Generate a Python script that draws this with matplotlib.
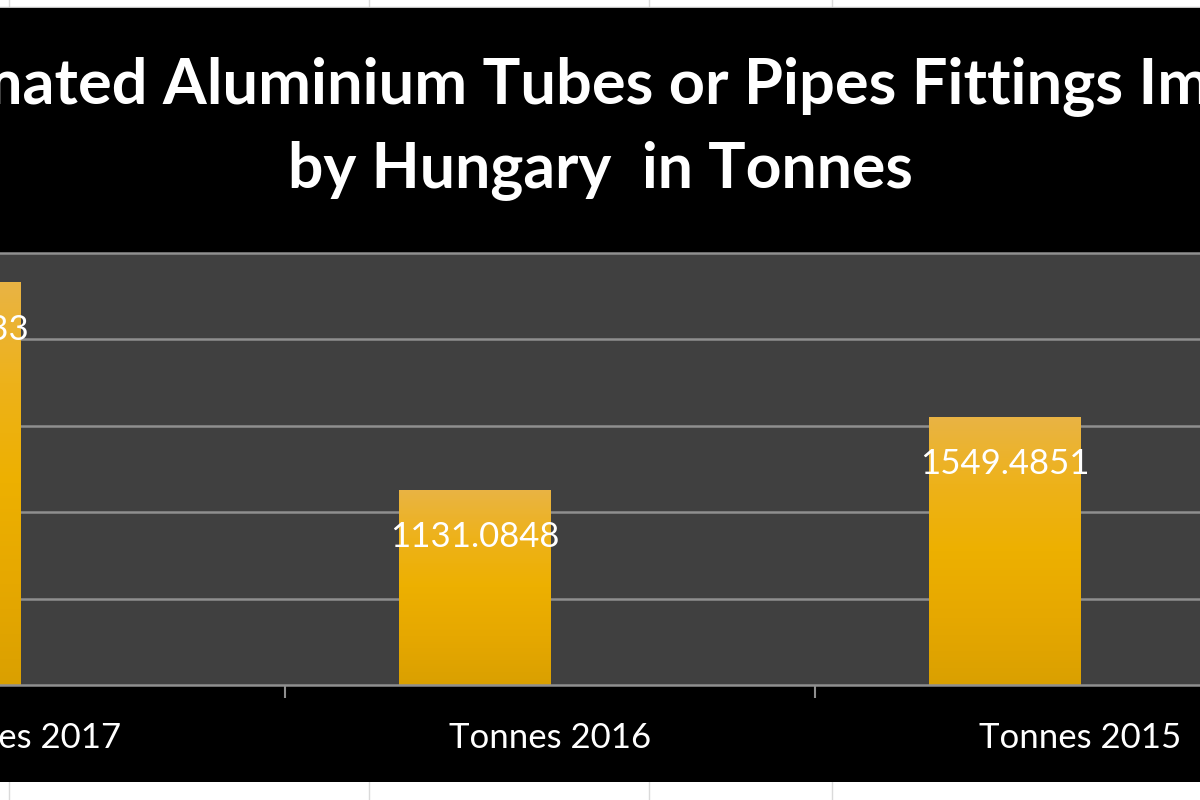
import numpy as np
import matplotlib
matplotlib.use('Agg')
import matplotlib.pyplot as plt
from matplotlib.patches import Rectangle
from matplotlib.lines import Line2D
from matplotlib.colors import LinearSegmentedColormap

categories = ['Tonnes 2017', 'Tonnes 2016', 'Tonnes 2015']
values = [2330.5433, 1131.0848, 1549.4851]
value_labels = ['2330.5433', '1131.0848', '1549.4851']
y_ticks = [0, 500, 1000, 1500, 2000, 2500]
title_line1 = 'Estimated Aluminium Tubes or Pipes Fittings Imported'
title_line2 = 'by Hungary  in Tonnes'

W, H = 1200, 800
FONT = 'Lato'

def fx(px):
    return px / W

def fy(py):
    return 1 - py / H

fig = plt.figure(figsize=(12, 8), dpi=100)
fig.patch.set_facecolor('white')

# spreadsheet cells behind the chart object
for cx in [9, 369, 649, 832]:
    fig.add_artist(Line2D([fx(cx)] * 2, [0, 1], color='#dadada', lw=1, zorder=-3))
fig.add_artist(Line2D([0, 1], [fy(7)] * 2, color='#c0c0c0', lw=1, zorder=-3))

# black chart area
fig.add_artist(Rectangle((0, fy(782)), 1, fy(8) - fy(782), transform=fig.transFigure,
                         facecolor='black', edgecolor='none', zorder=-2))

# plot area (wider than the visible crop)
ax = fig.add_axes([fx(-245), fy(685), 1590 / W, 432 / H])
ax.set_facecolor('#404040')
for s in ['left', 'right', 'top']:
    ax.spines[s].set_visible(False)
ax.spines['bottom'].set_color('#8f8f8f')
ax.spines['bottom'].set_linewidth(1.8)

for yv in y_ticks[1:]:
    ax.axhline(yv, color='#8f8f8f', lw=1.8, clip_on=False, zorder=1)

x = np.arange(len(categories))
bar_w = 0.285
bars = ax.bar(x - bar_w / 2, values, width=bar_w, color='#EDB000', zorder=2)

cmap = LinearSegmentedColormap.from_list(
    'gold', ['#DAA000', '#E6A800', '#EDB000', '#EEB21A', '#E9B444'])
grad = np.linspace(0, 1, 256).reshape(-1, 1)
for b in bars:
    x0, w, h = b.get_x(), b.get_width(), b.get_height()
    im = ax.imshow(grad, extent=[x0, x0 + w, 0, h], origin='lower', cmap=cmap,
                   aspect='auto', zorder=2.1)
    im.set_clip_path(b)

for xi, v, lab in zip(x, values, value_labels):
    ax.annotate(lab, xy=(xi - bar_w / 2, v), xytext=(0, -34), textcoords='offset points',
                ha='center', va='center', color='white', fontsize=25,
                family=FONT, zorder=3)

ax.set_xlim(-0.5, 2.5)
ax.set_ylim(0, 2500)
ax.set_yticks(y_ticks)
ax.tick_params(axis='y', left=False, labelleft=False)
ax.set_xticks(x)
ax.set_xticklabels(categories, color='white', fontsize=25, family=FONT)
ax.tick_params(axis='x', which='major', length=0, pad=27)
ax.set_xticks([0.5, 1.5], minor=True)
ax.tick_params(axis='x', which='minor', length=9, width=1.5, color='#8f8f8f')

# title, two lines; the first runs off both sides of the crop
TS = 45
renderer = fig.canvas.get_renderer()

def ink_width(s, size):
    t = fig.text(0, 0, s, fontsize=size, fontweight='bold', family=FONT)
    wd = t.get_window_extent(renderer).width
    t.remove()
    return wd

# fit line 1 so the visible part runs from inside the 'm' of "Estimated" to "Im"
a = ink_width('Esti', TS)
b = ink_width(title_line1.split('Im')[0] + 'I', TS)
k = 1188 / (b - a)
ts1 = TS * k
x_left = -30 - a * k
fig.text(fx(x_left), fy(103), title_line1, ha='left', va='baseline', color='white',
         fontsize=ts1, fontweight='bold', family=FONT)
fig.text(fx(600), fy(187), title_line2, ha='center', va='baseline', color='white',
         fontsize=TS, fontweight='bold', family=FONT)

fig.savefig('out.png', dpi=100, facecolor=fig.get_facecolor())
